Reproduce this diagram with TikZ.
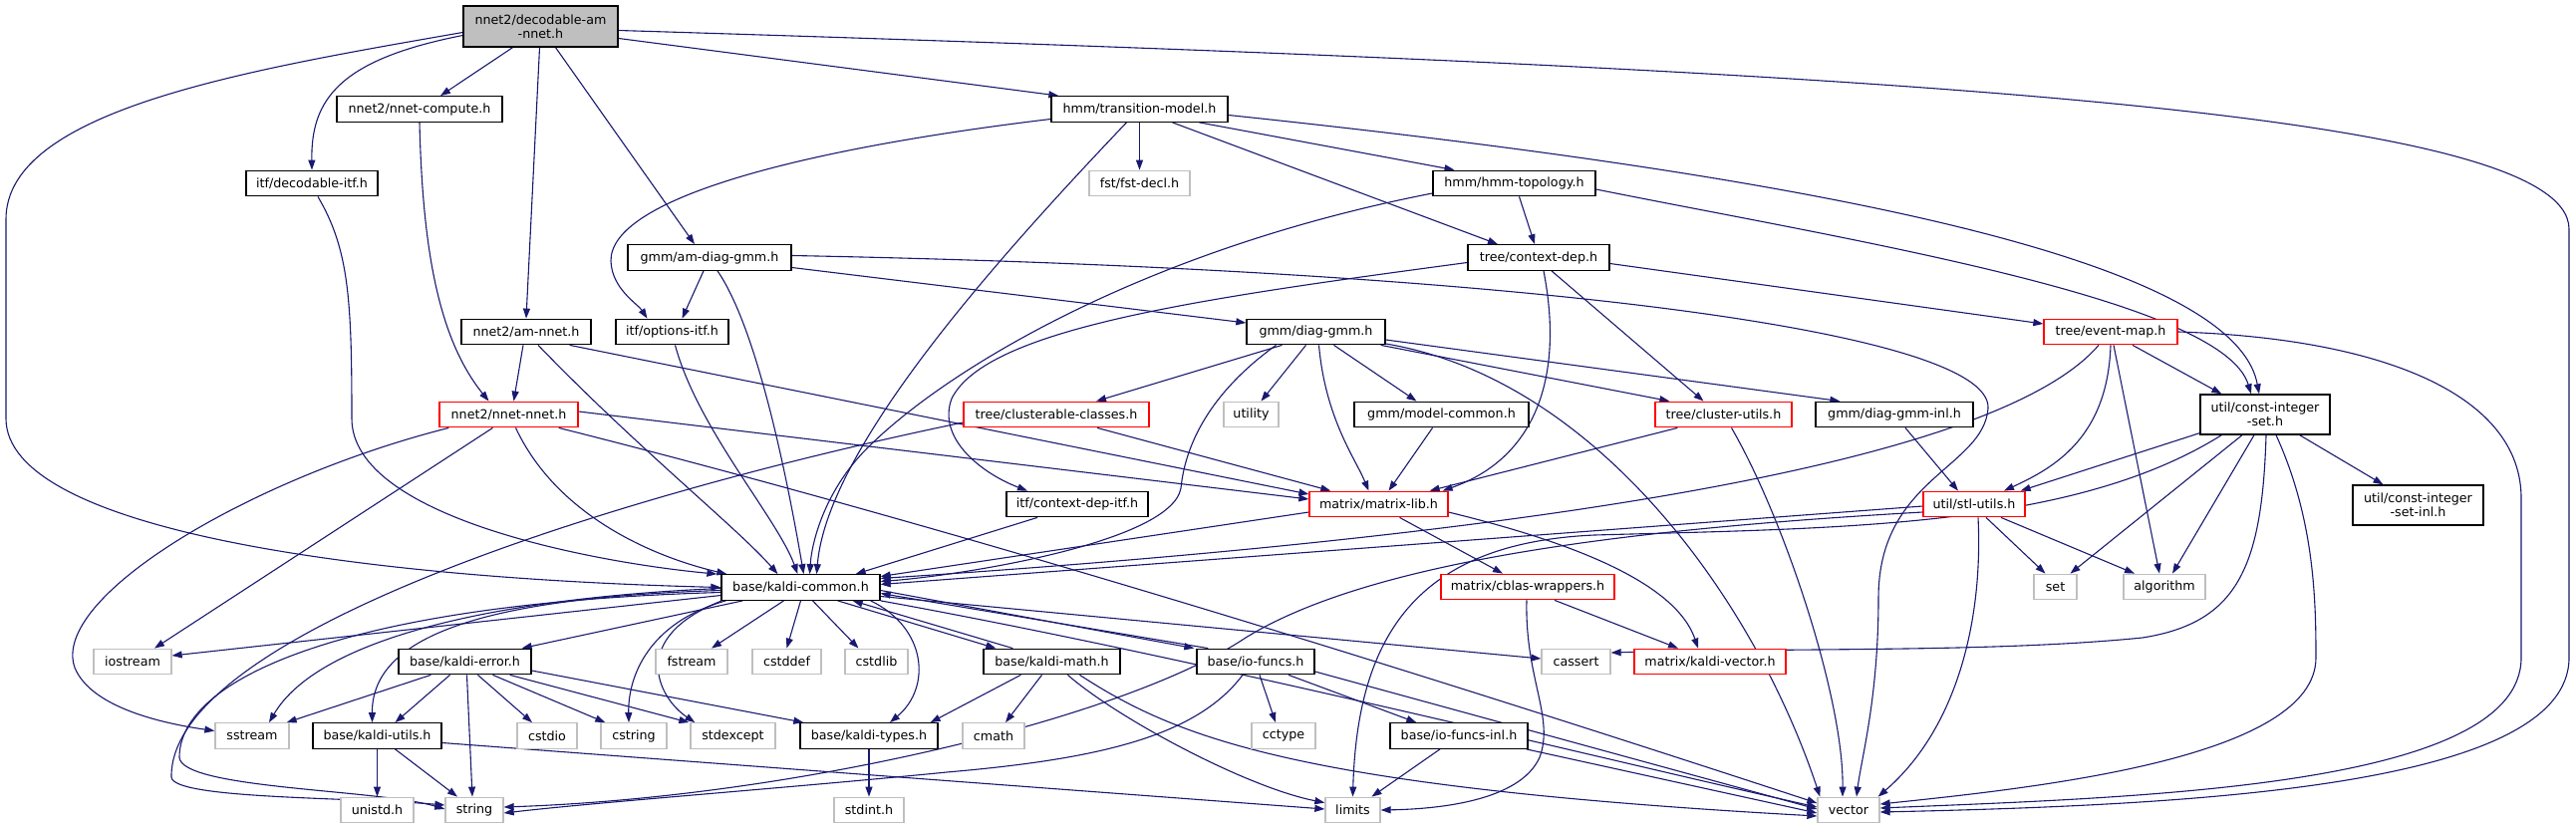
\documentclass[tikz,border=0pt]{standalone}
\usepackage{fontspec}
\setmainfont{DejaVu Sans}
\usetikzlibrary{arrows.meta,calc}
\definecolor{edgeblue}{RGB}{25,25,112}
\definecolor{graybd}{RGB}{191,191,191}
\definecolor{redbd}{RGB}{255,0,0}
\definecolor{topfill}{RGB}{191,191,191}
\newcommand{\fs}{\fontsize{12.7}{14}\selectfont}
\pgfdeclarelayer{back}
\pgfdeclarelayer{bg}
\pgfsetlayers{back,bg,main}
\begin{document}
\begin{tikzpicture}[x=1pt,y=-1pt,
 box/.style={draw=black, fill=white, line width=1.3pt, inner sep=0pt, font=\fs, align=center, minimum height=25.5pt},
 sys/.style={box, draw=graybd},
 trunc/.style={box, draw=redbd},
 edge/.style={draw=edgeblue, line width=1.1pt, -{Triangle[length=10pt,width=7pt]}},
]
\begin{pgfonlayer}{back}
\fill[white] (0,0) rectangle (2585,832);
\end{pgfonlayer}
\useasboundingbox (0,0) rectangle (2585,832);

% nodes
\node[box, fill=topfill, minimum width=155pt, minimum height=41pt] (D) at (542.5,26.5) {nnet2/decodable-am\\-nnet.h};
\node[box, minimum width=166pt] (nc) at (421,109.5) {nnet2/nnet-compute.h};
\node[box, minimum width=132pt] (dif) at (313,184) {itf/decodable-itf.h};
\node[box, minimum width=177pt] (tm) at (1143.5,109.5) {hmm/transition-model.h};
\node[sys, minimum width=101pt] (fst) at (1143.5,184) {fst/fst-decl.h};
\node[box, minimum width=163pt] (ht) at (1519.5,184) {hmm/hmm-topology.h};
\node[box, minimum width=164pt] (adg) at (712,258.5) {gmm/am-diag-gmm.h};
\node[box, minimum width=142pt] (cd) at (1544,258.5) {tree/context-dep.h};
\node[box, minimum width=130pt] (amn) at (528,333) {nnet2/am-nnet.h};
\node[box, minimum width=113pt] (opt) at (674.5,333) {itf/options-itf.h};
\node[box, minimum width=139pt] (dg) at (1320.5,333) {gmm/diag-gmm.h};
\node[trunc, minimum width=134pt] (em) at (2118,333) {tree/event-map.h};
\node[trunc, minimum width=139pt] (nn) at (510.5,416) {nnet2/nnet-nnet.h};
\node[trunc, minimum width=186pt] (cc) at (1060,416) {tree/clusterable-classes.h};
\node[sys, minimum width=55pt] (ut) at (1255.5,416) {utility};
\node[box, minimum width=175pt] (mc) at (1446.5,416) {gmm/model-common.h};
\node[trunc, minimum width=137pt] (cu) at (1729.5,416) {tree/cluster-utils.h};
\node[box, minimum width=158pt] (dgi) at (1901,416) {gmm/diag-gmm-inl.h};
\node[box, minimum width=130pt, minimum height=40pt] (cis) at (2273,416) {util/const-integer\\-set.h};
\node[box, minimum width=142pt] (cdi) at (1081,506) {itf/context-dep-itf.h};
\node[trunc, minimum width=139pt] (ml) at (1383.5,506) {matrix/matrix-lib.h};
\node[trunc, minimum width=102pt] (stl) at (1981,506) {util/stl-utils.h};
\node[box, minimum width=131pt, minimum height=40pt] (cisi) at (2426.5,507) {util/const-integer\\-set-inl.h};
\node[box, minimum width=159pt] (kc) at (803.5,589.5) {base/kaldi-common.h};
\node[trunc, minimum width=174pt] (cbw) at (1533,589) {matrix/cblas-wrappers.h};
\node[sys, minimum width=43pt] (set) at (2062.5,589) {set};
\node[sys, minimum width=82pt] (alg) at (2172,589) {algorithm};
\node[sys, minimum width=78pt] (ios) at (133,664) {iostream};
\node[box, minimum width=133pt] (ke) at (466.5,664) {base/kaldi-error.h};
\node[sys, minimum width=72pt] (fs) at (694,664) {fstream};
\node[sys, minimum width=69pt] (cdf) at (789.5,664) {cstddef};
\node[sys, minimum width=63pt] (csl) at (879.5,664) {cstdlib};
\node[box, minimum width=137pt] (km) at (1055.5,664) {base/kaldi-math.h};
\node[box, minimum width=118pt] (io) at (1260,664) {base/io-funcs.h};
\node[sys, minimum width=69pt] (cas) at (1581.5,664) {cassert};
\node[trunc, minimum width=152pt] (kv) at (1716,664) {matrix/kaldi-vector.h};
\node[sys, minimum width=74pt] (ss) at (253,738.5) {sstream};
\node[box, minimum width=129pt] (ku) at (378.5,738.5) {base/kaldi-utils.h};
\node[sys, minimum width=60pt] (cio) at (549,738.5) {cstdio};
\node[sys, minimum width=66pt] (cst) at (636,738.5) {cstring};
\node[sys, minimum width=85pt] (sex) at (735.5,738.5) {stdexcept};
\node[box, minimum width=138pt] (kt) at (872,738.5) {base/kaldi-types.h};
\node[sys, minimum width=62pt] (cm) at (997,738.5) {cmath};
\node[sys, minimum width=64pt] (cct) at (1288,738.5) {cctype};
\node[box, minimum width=138pt] (ioi) at (1464,738.5) {base/io-funcs-inl.h};
\node[sys, minimum width=73pt] (uni) at (378.5,813) {unistd.h};
\node[sys, minimum width=58pt] (str) at (476,813) {string};
\node[sys, minimum width=70pt] (sti) at (872,813) {stdint.h};
\node[sys, minimum width=55pt] (lim) at (1357.5,813) {limits};
\node[sys, minimum width=62pt] (vec) at (1855,813) {vector};

\begin{pgfonlayer}{bg}
% from D
\draw[edge] ($(D.west)+(0,6)$) .. controls (250,70) and (6,110) .. (6,220) -- (6,420) .. controls (6,530) and (350,580) .. (kc.west);
\draw[edge] ($(D.west)+(0,9)$) .. controls (340,60) and (312,100) .. (dif.north);
\draw[edge] ($(D.south)+(-28,0)$) -- ($(nc.north)+(21,0)$);
\draw[edge] ($(D.south)+(-1,0)$) -- (amn.north);
\draw[edge] ($(D.south)+(15,0)$) -- ($(adg.north)+(-15,0)$);
\draw[edge] ($(D.east)+(0,12)$) -- ($(tm.north west)+(8,0)$);
\draw[edge] ($(D.east)+(0,4)$) .. controls (1900,70) and (2578,110) .. (2578,230) -- (2578,660) .. controls (2578,790) and (2200,808) .. ($(vec.east)+(0,2)$);
% nc, dif
\draw[edge] (nc.south) .. controls (424,250) and (440,340) .. ($(nn.north)+(-20,0)$);
\draw[edge] ($(dif.south)+(6,0)$) .. controls (350,250) and (353,300) .. (353,420) .. controls (353,520) and (600,565) .. ($(kc.north west)+(-4,0)$);
% tm
\draw[edge] (tm.south) -- (fst.north);
\draw[edge] ($(tm.south)+(60,0)$) -- ($(ht.north)+(-60,0)$);
\draw[edge] ($(tm.south)+(33,0)$) -- ($(cd.north)+(-41,0)$);
\draw[edge] ($(tm.east)+(0,6)$) .. controls (1750,170) and (2240,250) .. ($(cis.north)+(-6,0)$);
\draw[edge] ($(tm.south)+(-13,0)$) .. controls (1000,260) and (830,450) .. ($(kc.north)+(16,0)$);
\draw[edge] ($(tm.west)+(0,10)$) .. controls (800,150) and (612,200) .. (613,262) .. controls (614,290) and (640,305) .. ($(opt.north)+(-25,0)$);
% ht
\draw[edge] ($(ht.south)+(5,0)$) -- ($(cd.north)+(-4,0)$);
\draw[edge] ($(ht.east)+(0,6)$) .. controls (1850,240) and (2230,300) .. ($(cis.north)+(-14,0)$);
\draw[edge] ($(ht.west)+(0,10)$) .. controls (1150,250) and (950,370) .. (870,450) .. controls (830,490) and (815,540) .. ($(kc.north)+(9,0)$);
% cd
\draw[edge] ($(cd.east)+(0,6)$) -- ($(em.west)+(0,-8)$);
\draw[edge] ($(cd.south)+(13,0)$) -- ($(cu.north)+(-20,0)$);
\draw[edge] ($(cd.south)+(5,0)$) .. controls (1570,380) and (1540,460) .. ($(ml.north east)+(-6,0)$);
\draw[edge] ($(cd.west)+(0,5)$) .. controls (1200,300) and (990,330) .. (955,400) .. controls (940,440) and (985,475) .. ($(cdi.north)+(-50,0)$);
% adg
\draw[edge] ($(adg.south)+(-6,0)$) -- ($(opt.north)+(10,0)$);
\draw[edge] ($(adg.south)+(8,0)$) .. controls (760,330) and (790,480) .. ($(kc.north)+(3,0)$);
\draw[edge] ($(adg.east)+(0,10)$) -- ($(dg.west)+(0,-9)$);
\draw[edge] ($(adg.east)+(0,-2)$) .. controls (1500,270) and (2000,330) .. (1995,410) .. controls (1990,470) and (1885,480) .. (1885,600) .. controls (1885,700) and (1868,760) .. ($(vec.north)+(8,0)$);
% amn
\draw[edge] ($(amn.south)+(-3,0)$) -- ($(nn.north)+(5,0)$);
\draw[edge] ($(amn.south)+(12,0)$) .. controls (640,450) and (740,530) .. ($(kc.north)+(-23,0)$);
\draw[edge] ($(amn.south east)+(-22,0)$) -- ($(ml.west)+(0,-10)$);
% opt
\draw[edge] ($(opt.south)+(3,0)$) .. controls (700,430) and (780,520) .. ($(kc.north)+(-3,0)$);
% nn
\draw[edge] ($(nn.south)+(-16,0)$) -- ($(ios.north)+(22,0)$);
\draw[edge] ($(nn.south west)+(10,0)$) .. controls (250,480) and (50,600) .. (75,670) .. controls (92,712) and (170,727) .. ($(ss.west)+(0,-5)$);
\draw[edge] ($(nn.south)+(7,0)$) .. controls (560,520) and (660,560) .. ($(kc.north west)+(6,0)$);
\draw[edge] ($(nn.east)+(0,-3)$) -- ($(ml.west)+(0,-5)$);
\draw[edge] ($(nn.south east)+(-20,0)$) .. controls (1000,540) and (1500,700) .. ($(vec.west)+(0,-7)$);
% dg
\draw[edge] ($(dg.south)+(-34,0)$) -- ($(cc.north)+(40,0)$);
\draw[edge] ($(dg.south)+(-10,0)$) -- ($(ut.north)+(10,0)$);
\draw[edge] ($(dg.south)+(3,0)$) .. controls (1330,420) and (1360,460) .. ($(ml.north)+(-10,0)$);
\draw[edge] ($(dg.south)+(18,0)$) -- ($(mc.north)+(-25,0)$);
\draw[edge] ($(dg.south east)+(-5,0)$) -- ($(cu.north west)+(15,0)$);
\draw[edge] ($(dg.east)+(0,8)$) -- ($(dgi.north west)+(25,0)$);
\draw[edge] ($(dg.east)+(0,12)$) .. controls (1600,380) and (1760,600) .. ($(vec.north west)+(3,0)$);
\draw[edge] ($(dg.south)+(-40,0)$) .. controls (1220,390) and (1190,440) .. (1185,490) .. controls (1175,545) and (960,578) .. ($(kc.east)+(0,-6)$);
% em
\draw[edge] (em.south) .. controls (2115,440) and (2060,470) .. ($(stl.north)+(30,0)$);
\draw[edge] ($(em.south)+(22,0)$) -- ($(cis.north west)+(22,0)$);
\draw[edge] ($(em.south)+(3,0)$) -- ($(alg.north)+(-5,0)$);
\draw[edge] ($(em.south)+(-12,0)$) .. controls (2000,470) and (1500,540) .. ($(kc.east)+(0,-9)$);
\draw[edge] (em.east) .. controls (2400,340) and (2530,400) .. (2530,500) -- (2530,660) .. controls (2530,790) and (2150,800) .. ($(vec.east)+(0,-2)$);
% cis
\draw[edge] ($(cis.south west)+(0,-2)$) -- ($(stl.north east)+(-5,0)$);
\draw[edge] ($(cis.south)+(-23,0)$) -- ($(set.north)+(15,0)$);
\draw[edge] ($(cis.south)+(-11,0)$) -- ($(alg.north)+(8,0)$);
\draw[edge] ($(cis.south)+(1,0)$) .. controls (2270,570) and (2245,625) .. (2150,640) .. controls (2000,655) and (1800,650) .. ($(cas.east)+(0,-9)$);
\draw[edge] ($(cis.south)+(11,0)$) .. controls (2322,520) and (2324,600) .. (2324,660) .. controls (2324,760) and (2050,790) .. ($(vec.east)+(0,-6)$);
\draw[edge] ($(cis.south east)+(-31,0)$) -- ($(cisi.north)+(-35,0)$);
\draw[edge] ($(cis.south west)+(22,0)$) .. controls (2080,530) and (1850,530) .. (1600,537) .. controls (1420,545) and (1362,640) .. (lim.north);
% stl
\draw[edge] ($(stl.west)+(0,2)$) -- ($(kc.east)+(0,-3)$);
\draw[edge] ($(stl.west)+(0,8)$) .. controls (1650,530) and (1380,560) .. (1250,640) .. controls (1130,720) and (800,800) .. ($(str.east)+(0,-3)$);
\draw[edge] ($(stl.south)+(12,0)$) -- ($(set.north)+(-10,0)$);
\draw[edge] ($(stl.south)+(27,0)$) -- ($(alg.north)+(-30,0)$);
\draw[edge] ($(stl.south)+(4,0)$) .. controls (1990,620) and (1965,730) .. ($(vec.north east)+(-2,0)$);
% dgi, cc, mc, cu, cdi
\draw[edge] ($(dgi.south)+(11,0)$) -- ($(stl.north)+(-16,0)$);
\draw[edge] ($(cc.south)+(41,0)$) -- ($(ml.north west)+(22,0)$);
\draw[edge] ($(cc.west)+(0,8)$) .. controls (600,500) and (170,640) .. (172,780) .. controls (174,802) and (350,800) .. ($(str.west)+(0,-5)$);
\draw[edge] ($(mc.south)+(-9,0)$) -- ($(ml.north)+(10,0)$);
\draw[edge] ($(cu.south west)+(23,0)$) -- ($(ml.north east)+(-19,0)$);
\draw[edge] ($(cu.south)+(8,0)$) .. controls (1790,520) and (1850,700) .. ($(vec.north)+(-6,0)$);
\draw[edge] ($(cdi.south)+(-40,0)$) -- ($(kc.north east)+(-25,0)$);
% ml, cbw
\draw[edge] ($(ml.west)+(0,8)$) -- ($(kc.east)+(0,-11)$);
\draw[edge] ($(ml.south)+(21,0)$) -- ($(cbw.north)+(-25,0)$);
\draw[edge] ($(ml.east)+(0,8)$) .. controls (1560,540) and (1680,580) .. ($(kv.north)+(-12,0)$);
\draw[edge] ($(cbw.south)+(27,0)$) -- ($(kv.north)+(-32,0)$);
\draw[edge] ($(cbw.south)+(-1,0)$) .. controls (1530,680) and (1560,720) .. (1545,760) .. controls (1525,805) and (1440,812) .. (lim.east);
% kc
\draw[edge] ($(kc.west)+(0,8)$) -- ($(ios.east)+(0,-6)$);
\draw[edge] ($(kc.south west)+(22,0)$) -- ($(ke.north east)+(-10,0)$);
\draw[edge] ($(kc.south)+(-17,0)$) -- ($(fs.north)+(20,0)$);
\draw[edge] (kc.south) -- (cdf.north);
\draw[edge] ($(kc.south)+(12,0)$) -- ($(csl.north)+(-18,0)$);
\draw[edge] ($(kc.south east)+(-10,0)$) .. controls (930,630) and (935,690) .. ($(kt.north)+(21,0)$);
\draw[edge] ($(kc.south east)+(-43,0)$) -- ($(km.north west)+(13,0)$);
\draw[edge] ($(km.north west)+(30,0)$) -- ($(kc.south east)+(-28,0)$);
\draw[edge] ($(kc.east)+(0,3)$) -- ($(io.north west)+(-2,0)$);
\draw[edge] ($(io.north west)+(12,0)$) -- ($(kc.east)+(0,6)$);
\draw[edge] ($(kc.east)+(0,9)$) -- ($(cas.west)+(0,-3)$);
\draw[edge] (kc.south east) .. controls (1200,660) and (1600,760) .. ($(vec.west)+(0,-3)$);
\draw[edge] ($(kc.south west)+(5,0)$) .. controls (650,625) and (630,680) .. ($(cst.north)+(-5,0)$);
\draw[edge] ($(kc.south west)+(1,0)$) .. controls (630,640) and (660,700) .. ($(sex.north west)+(5,0)$);
\draw[edge] ($(kc.west)+(0,3)$) .. controls (480,600) and (373,640) .. ($(ku.north)+(-5,0)$);
\draw[edge] ($(kc.west)+(0,1)$) .. controls (500,600) and (320,640) .. ($(ss.north)+(17,0)$);
\draw[edge] ($(kc.west)+(0,5)$) .. controls (350,605) and (180,680) .. (180,760) .. controls (182,792) and (380,792) .. ($(str.west)+(0,-1)$);
% km
\draw[edge] ($(km.south west)+(38,0)$) -- ($(kt.north east)+(-8,0)$);
\draw[edge] ($(km.south)+(-10,0)$) -- ($(cm.north)+(12,0)$);
\draw[edge] ($(km.south)+(16,0)$) .. controls (1120,720) and (1250,790) .. ($(lim.north west)+(0,6)$);
\draw[edge] ($(km.south)+(28,0)$) .. controls (1180,740) and (1300,790) .. ($(vec.west)+(0,6)$);
% io, ioi
\draw[edge] ($(io.south)+(4,0)$) -- ($(cct.north)+(-8,0)$);
\draw[edge] ($(io.south)+(33,0)$) -- ($(ioi.north west)+(27,0)$);
\draw[edge] ($(io.east)+(0,10)$) -- ($(vec.west)+(0,-1)$);
\draw[edge] ($(io.south)+(-13,0)$) .. controls (1200,740) and (1100,762) .. (950,775) .. controls (800,790) and (600,805) .. ($(str.east)+(0,3)$);
\draw[edge] ($(ioi.south)+(-19,0)$) -- ($(lim.north)+(19,0)$);
\draw[edge] ($(ioi.south east)+(-2,0)$) -- ($(vec.west)+(0,3)$);
% ke
\draw[edge] ($(ke.south west)+(33,0)$) -- ($(ss.north east)+(-3,0)$);
\draw[edge] ($(ke.south)+(-15,0)$) -- ($(ku.north)+(18,0)$);
\draw[edge] ($(ke.south)+(2,0)$) -- ($(str.north)+(-2,0)$);
\draw[edge] ($(ke.south)+(13,0)$) -- ($(cio.north)+(-15,0)$);
\draw[edge] ($(ke.south)+(28,0)$) -- ($(cst.north west)+(5,0)$);
\draw[edge] ($(ke.south east)+(-22,0)$) -- ($(sex.north west)+(-1,0)$);
\draw[edge] ($(ke.east)+(0,9)$) -- ($(kt.north west)+(4,0)$);
% ku, kt
\draw[edge] (ku.south) -- (uni.north);
\draw[edge] ($(ku.south)+(18,0)$) -- ($(str.north)+(-17,0)$);
\draw[edge] ($(ku.east)+(0,7)$) -- ($(lim.west)+(0,-1)$);
\draw[edge] (kt.south) -- (sti.north);
\end{pgfonlayer}
\end{tikzpicture}
\end{document}
